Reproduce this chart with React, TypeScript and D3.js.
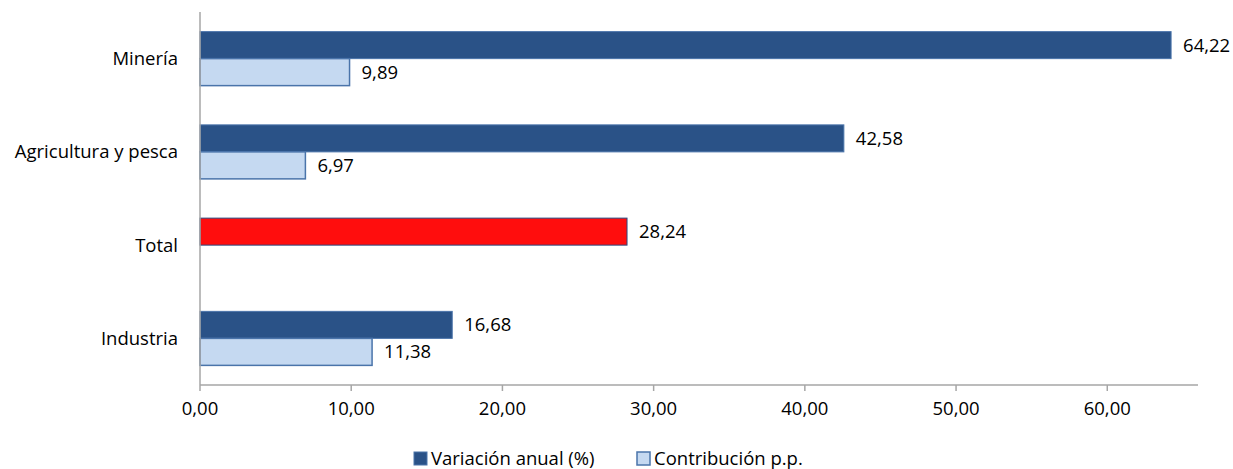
import React from "react";
import * as d3 from "d3";

const categories = ["Minería", "Agricultura y pesca", "Total", "Industria"];
const variacion: (number | null)[] = [64.22, 42.58, 28.24, 16.68];
const contribucion: (number | null)[] = [9.89, 6.97, null, 11.38];
const xTicks = [0, 10, 20, 30, 40, 50, 60];
const seriesNames = ["Variación anual (%)", "Contribución p.p."];

const W = 1233;
const H = 469;
const FONT = "'Open Sans', 'Noto Sans', sans-serif";
const FS = 18.5;

const fmt = (v: number) => v.toFixed(2).replace(".", ",");

export default function App() {
  const x = d3.scaleLinear().domain([0, 66]).range([200, 1198]);
  const y = d3.scaleBand<string>().domain(categories).range([12, 385]);
  const step = y.step();
  const barH = 27;
  const darkFill = "#2A5287";
  const lightFill = "#C5D9F1";
  const stroke = "#4A74AA";

  return (
    <svg width={W} height={H} style={{ position: "absolute", left: 0, top: 0, background: "#fff" }} fontFamily={FONT}>
      {categories.map((c, i) => {
        const center = (y(c) as number) + step / 2;
        const v = variacion[i];
        const cv = contribucion[i];
        const isTotal = c === "Total";
        return (
          <g key={c}>
            {v != null && (
              <g>
                <rect x={x(0)} y={center - barH} width={x(v) - x(0)} height={barH}
                  fill={isTotal ? "#FF0D0D" : darkFill} stroke={isTotal ? "#2A4A80" : stroke} strokeWidth={1} />
                <text x={x(v) + 12} y={center - barH / 2} dy="0.35em" fontSize={FS} fill="#000">{fmt(v)}</text>
              </g>
            )}
            {cv != null && (
              <g>
                <rect x={x(0)} y={center} width={x(cv) - x(0)} height={barH}
                  fill={lightFill} stroke={stroke} strokeWidth={1.5} />
                <text x={x(cv) + 12} y={center + barH / 2} dy="0.35em" fontSize={FS} fill="#000">{fmt(cv)}</text>
              </g>
            )}
            <text x={178} y={center} dy="0.35em" textAnchor="end" fontSize={FS} fill="#000">{c}</text>
          </g>
        );
      })}
      <line x1={x(0)} x2={x(0)} y1={12} y2={385} stroke="#A6A6A6" strokeWidth={1.5} />
      <line x1={x(0)} x2={1198} y1={385} y2={385} stroke="#A6A6A6" strokeWidth={1.5} />
      {xTicks.map((t) => (
        <g key={t}>
          <line x1={x(t)} x2={x(t)} y1={385} y2={391} stroke="#A6A6A6" strokeWidth={1.5} />
          <text x={x(t)} y={409} dy="0.35em" textAnchor="middle" fontSize={FS} fill="#000">{fmt(t)}</text>
        </g>
      ))}
      <rect x={414} y={452} width={13} height={13} fill={darkFill} stroke={stroke} strokeWidth={1} />
      <text x={431} y={459} dy="0.35em" fontSize={FS} fill="#000">{seriesNames[0]}</text>
      <rect x={637} y={452} width={13} height={13} fill={lightFill} stroke={stroke} strokeWidth={1.5} />
      <text x={654} y={459} dy="0.35em" fontSize={FS} fill="#000">{seriesNames[1]}</text>
    </svg>
  );
}
